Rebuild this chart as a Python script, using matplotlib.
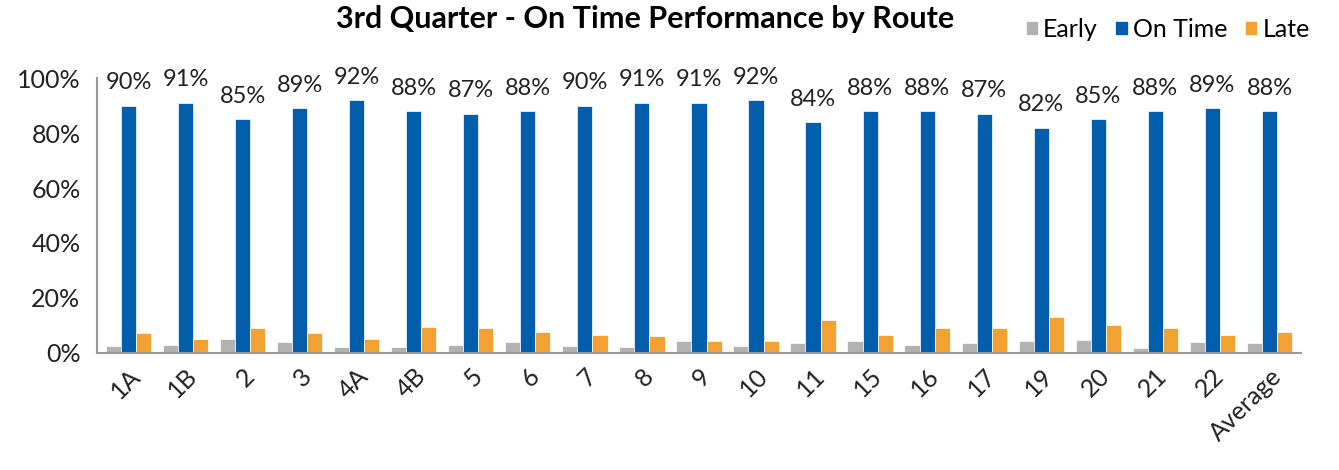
import numpy as np
import matplotlib.pyplot as plt

plt.rcParams['font.family'] = ['Lato', 'DejaVu Sans']

routes = ['1A', '1B', '2', '3', '4A', '4B', '5', '6', '7', '8', '9', '10',
          '11', '15', '16', '17', '19', '20', '21', '22', 'Average']
early = [2.4, 2.9, 5.0, 3.9, 2.3, 2.3, 2.8, 4.1, 2.5, 2.3, 4.2, 2.7,
         3.5, 4.5, 2.9, 3.5, 4.4, 4.6, 1.7, 4.1, 3.5]
on_time = [90, 91, 85, 89, 92, 88, 87, 88, 90, 91, 91, 92,
           84, 88, 88, 87, 82, 85, 88, 89, 88]
late = [7.3, 5.1, 9.2, 7.2, 5.1, 9.3, 9.2, 7.5, 6.5, 6.1, 4.4, 4.5,
        11.9, 6.5, 9.0, 9.0, 13.1, 10.1, 9.2, 6.4, 7.8]

C_EARLY = '#b2b2b2'
C_ON = '#005eac'
C_LATE = '#f4a133'

fig = plt.figure(figsize=(13.39, 4.70), dpi=100)
ax = fig.add_axes([0.0725, 0.249, 0.899, 0.585])

x = np.arange(len(routes))
w = 0.265
ax.bar(x - w, early, w, color=C_EARLY, label='Early', edgecolor='white', linewidth=0.5)
ax.bar(x, on_time, w, color=C_ON, label='On Time', edgecolor='white', linewidth=0.5)
ax.bar(x + w, late, w, color=C_LATE, label='Late', edgecolor='white', linewidth=0.5)

# value labels above the on-time bars
for xi, v in zip(x, on_time):
    ax.text(xi, v + 4.5, f'{v}%', ha='center', va='bottom', fontsize=17, color='#222222')

ax.set_ylim(0, 100)
ax.set_xlim(-0.55, len(routes) - 0.45)
ax.set_yticks(np.arange(0, 101, 20))
ax.set_yticklabels([f'{t}%' for t in range(0, 101, 20)], fontsize=18, color='#222222')
ax.set_xticks(x)
ax.set_xticklabels(routes, rotation=45, ha='right', rotation_mode='anchor',
                   fontsize=18, color='#222222')
ax.tick_params(axis='y', length=0, pad=12)
ax.tick_params(axis='x', length=0, pad=8)

for s in ['top', 'right']:
    ax.spines[s].set_visible(False)
for s in ['left', 'bottom']:
    ax.spines[s].set_color('#999999')
    ax.spines[s].set_linewidth(1.5)

fig.text(0.482, 0.99, '3rd Quarter - On Time Performance by Route',
         ha='center', va='top', fontsize=22, fontweight='bold')
fig.legend(loc='upper right', bbox_to_anchor=(0.995, 1.01), ncol=3, frameon=False,
           fontsize=18, handlelength=0.5, handleheight=0.5, handletextpad=0.2,
           columnspacing=0.7)

fig.savefig('out.png', dpi=100)
